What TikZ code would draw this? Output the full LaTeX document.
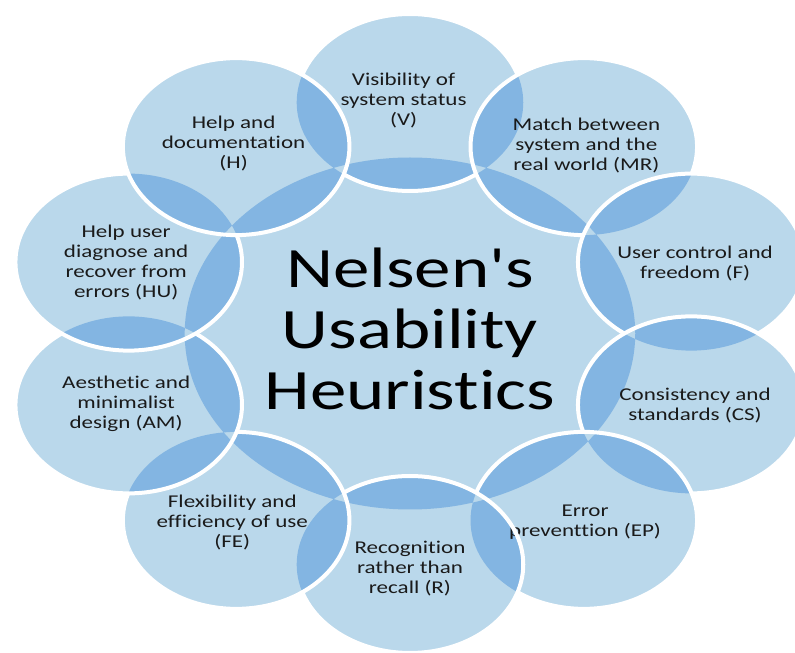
\documentclass[tikz,border=0pt]{standalone}
\usepackage{fontspec}
\setmainfont{Carlito}[Ligatures=NoCommon]
\usetikzlibrary{calc}
\definecolor{ringfill}{RGB}{186,216,235}
\definecolor{ringlens}{RGB}{131,181,226}
\definecolor{ringtext}{RGB}{26,26,26}
\newcommand{\ringr}{88.5}
\newcommand{\hubr}{176}
\begin{document}
\begin{tikzpicture}[
    x=1pt, y=1pt, xscale=1.28,
    heur/.style={align=center, inner sep=0pt, transform shape,
      text=ringtext, font=\fontsize{18}{20}\selectfont},
    headline/.style={align=center, inner sep=0pt, transform shape,
      font=\fontsize{57}{61}\selectfont},
    ringedge/.style={draw=white, line width=4pt}
]
    \useasboundingbox (-320.3,-319.5) rectangle (300.8,333.5);
    \coordinate (hub) at (0,0);
    \coordinate (v)  at (90:231);
    \coordinate (mr) at (54:231);
    \coordinate (f)  at (18:231);
    \coordinate (cs) at (-18:231);
    \coordinate (ep) at (-54:231);
    \coordinate (r)  at (-90:231);
    \coordinate (fe) at (-126:231);
    \coordinate (am) at (-162:231);
    \coordinate (hu) at (162:231);
    \coordinate (h)  at (126:231);
    \def\allrings{(hub) circle (\hubr)
      (v) circle (\ringr) (mr) circle (\ringr) (f) circle (\ringr)
      (cs) circle (\ringr) (ep) circle (\ringr) (r) circle (\ringr)
      (fe) circle (\ringr) (am) circle (\ringr) (hu) circle (\ringr)
      (h) circle (\ringr)}
    % plain fill, then the double overlaps a shade darker
    \fill[ringfill] \allrings;
    \begin{scope}
        \clip \allrings;
        \fill[ringlens, even odd rule] (-400,-400) rectangle (400,400) \allrings;
    \end{scope}
    \node[heur] (tv)  at ($(v)+(-5,2)$)    {Visibility of\\system status\\(V)};
    \node[heur] (tmr) at ($(mr)+(2,1)$)    {Match between\\system and the\\real world (MR)};
    \node[heur] (tf)  at ($(f)+(3,-1)$)    {User control and\\freedom (F)};
    \node[heur] (tcs) at ($(cs)+(3,-1)$)   {Consistency and\\standards (CS)};
    \node[heur] (tep) at ($(ep)+(1,-2)$)   {Error\\preventtion (EP)};
    \node[heur] (tr)  at ($(r)+(0,-4)$)    {Recognition\\rather than\\recall (R)};
    \node[heur] (tfe) at ($(fe)+(-3,-2)$)  {Flexibility and\\efficiency of use\\(FE)};
    \node[heur] (tam) at ($(am)+(-2,1)$)   {Aesthetic and\\minimalist\\design (AM)};
    \node[heur] (thu) at ($(hu)+(-2,0)$)   {Help user\\diagnose and\\recover from\\errors (HU)};
    \node[heur] (th)  at ($(h)+(-2,3)$)    {Help and\\documentation\\(H)};
    % each rim is hidden under the circle laid on next
    \foreach \c/\n/\m in {v/mr/h, mr/f/f, f/cs/cs, cs/ep/ep, ep/r/r,
                          r/fe/fe, fe/am/am, am/hu/hu, hu/h/h} {
        \begin{scope}[even odd rule]
            \clip (-400,-400) rectangle (400,400) (\n) circle (\ringr);
            \clip (-400,-400) rectangle (400,400) (\m) circle (\ringr);
            \draw[ringedge] (\c) circle (\ringr);
        \end{scope}
    }
    \draw[ringedge] (h) circle (\ringr);
    \node[headline] (title) at ($(hub)+(0,5)$) {Nelsen\textquotesingle s\\Usability\\Heuristics};
\end{tikzpicture}
\end{document}
